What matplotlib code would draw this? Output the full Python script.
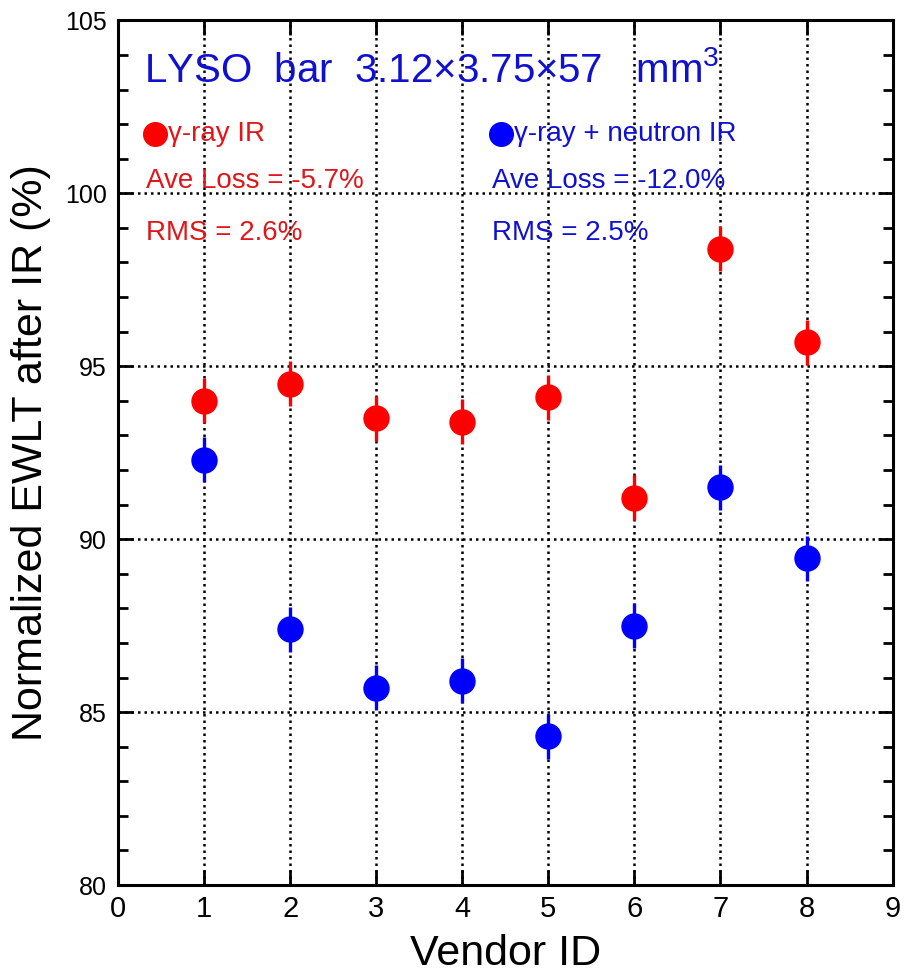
import matplotlib
matplotlib.use("Agg")
import matplotlib.pyplot as plt
from matplotlib.ticker import MultipleLocator
from matplotlib import font_manager

vendor_id = [1, 2, 3, 4, 5, 6, 7, 8]
gamma_ewlt = [94.0, 94.5, 93.5, 93.4, 94.1, 91.2, 98.4, 95.7]
gamma_neutron_ewlt = [92.3, 87.4, 85.7, 85.9, 84.3, 87.5, 91.5, 89.45]
ewlt_err = 0.65

RED = "#ff0000"
RED_TEXT = "#e0161a"
BLUE = "#0000ff"
BLUE_TEXT = "#1010d0"

names = {f.name for f in font_manager.fontManager.ttflist}
narrow = "Liberation Sans Narrow" if "Liberation Sans Narrow" in names else "Liberation Sans"

plt.rcParams["font.family"] = ["Liberation Sans", "DejaVu Sans"]
plt.rcParams["mathtext.fontset"] = "custom"
plt.rcParams["mathtext.rm"] = "Liberation Sans"
plt.rcParams["mathtext.it"] = "Liberation Sans"

fig = plt.figure(figsize=(9.08, 9.72), dpi=100)
ax = fig.add_axes([0.130, 0.0895, 0.853, 0.8895])

ax.set_xlim(0, 9)
ax.set_ylim(80, 105)
ax.xaxis.set_major_locator(MultipleLocator(1))
ax.yaxis.set_major_locator(MultipleLocator(5))
ax.yaxis.set_minor_locator(MultipleLocator(1))

ax.grid(True, which="major", color="black", linestyle=(0, (1, 1.6)), linewidth=1.8)
ax.set_axisbelow(True)

for s in ax.spines.values():
    s.set_linewidth(2.2)

ax.tick_params(which="both", direction="in", top=True, right=True, width=2)
ax.tick_params(which="major", length=11)
ax.tick_params(which="minor", length=7)
ax.tick_params(axis="y", labelsize=18, pad=8)
ax.tick_params(axis="x", labelsize=21, pad=7)
for lab in ax.get_xticklabels():
    lab.set_family(narrow)

ax.errorbar(vendor_id, gamma_ewlt, yerr=ewlt_err, fmt="o", color=RED,
            markersize=18, elinewidth=2.4, capsize=0, zorder=3)
ax.errorbar(vendor_id, gamma_neutron_ewlt, yerr=ewlt_err, fmt="o", color=BLUE,
            markersize=18, elinewidth=2.4, capsize=0, zorder=3)

ax.set_xlabel("Vendor ID", fontsize=31, family=narrow, labelpad=8)
ax.set_ylabel("Normalized EWLT after IR (%)", fontsize=31, family=narrow, labelpad=10)

# header and legend block inside the frame
ax.text(0.30, 103.55, "LYSO  bar  3.12×3.75×57   mm$^{3}$", color=BLUE_TEXT,
        fontsize=29, va="center", ha="left")

ax.plot([0.43], [101.73], "o", color=RED, markersize=17)
ax.text(0.58, 101.73, "γ-ray IR", color=RED_TEXT, fontsize=20, va="center")
ax.text(0.33, 100.35, "Ave Loss = -5.7%", color=RED_TEXT, fontsize=20, va="center")
ax.text(0.33, 98.85, "RMS = 2.6%", color=RED_TEXT, fontsize=20, va="center")

ax.plot([4.45], [101.73], "o", color=BLUE, markersize=17)
ax.text(4.60, 101.73, "γ-ray + neutron IR", color=BLUE_TEXT, fontsize=20, va="center")
ax.text(4.35, 100.35, "Ave Loss = -12.0%", color=BLUE_TEXT, fontsize=20, va="center")
ax.text(4.35, 98.85, "RMS = 2.5%", color=BLUE_TEXT, fontsize=20, va="center")

fig.savefig("out.png", dpi=100)
